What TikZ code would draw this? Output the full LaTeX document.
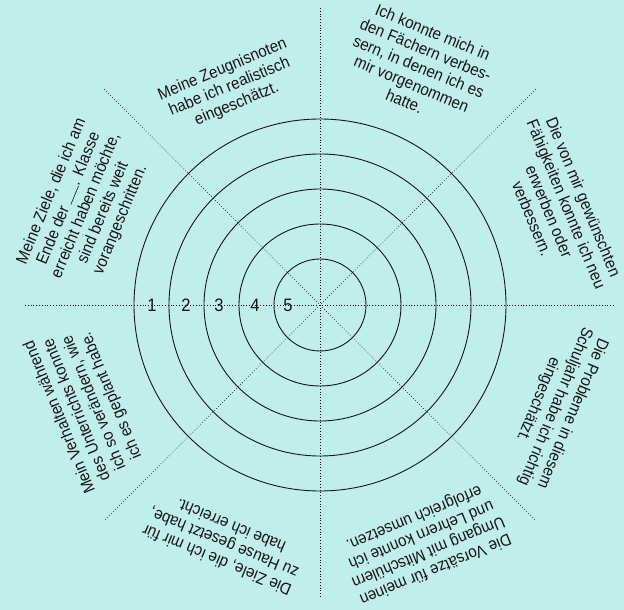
\documentclass[tikz,border=0pt]{standalone}
\usepackage{fontspec}
\setmainfont{Liberation Sans}[FakeStretch=0.92]
\definecolor{bg}{RGB}{192,238,235}
\definecolor{ink}{RGB}{22,22,22}
\begin{document}
\begin{tikzpicture}[x=1pt,y=1pt,
  ring/.style={draw=ink, line width=0.9pt},
  axis/.style={draw=ink, line width=0.7pt, dash pattern=on 0.8pt off 2pt},
  statement/.style={align=center, font=\fontsize{16.5}{18.6}\selectfont, text=ink, inner sep=0pt},
  level/.style={font=\fontsize{18}{20}\selectfont, text=ink, inner sep=0pt}]
% page and background
\fill[bg] (-320,-305) rectangle (304,305);
\useasboundingbox (-320,-305) rectangle (304,305);
\coordinate (c) at (0,0);
% ends of the dotted dividers
\coordinate (w) at (-295,0);
\coordinate (e) at (295,0);
\coordinate (n) at (0,297);
\coordinate (s) at (0,-293);
\coordinate (nw) at (135:305);
\coordinate (ne) at (45:305);
\coordinate (sw) at (225:305);
\coordinate (se) at (-45:305);
\draw[axis] (w) -- (e);
\draw[axis] (n) -- (s);
\draw[axis] (nw) -- (se);
\draw[axis] (ne) -- (sw);
% target rings
\foreach \r in {46,81,116,151,186}
  \draw[ring] (c) circle[radius=\r];
% level numbers
\node[level] (l1) at (-168,0) {1};
\node[level] (l2) at (-134,0) {2};
\node[level] (l3) at (-101,0) {3};
\node[level] (l4) at (-65,0) {4};
\node[level] (l5) at (-32,0) {5};
% statements, one per sector
\node[statement, rotate=22.5] (s1) at (112.5:236)
  {Meine Zeugnisnoten\\habe ich realistisch\\eingeschätzt.};
\node[statement, rotate=-22.5] (s2) at (67.5:258)
  {Ich konnte mich in\\den Fächern verbes-\\sern, in denen ich es\\mir vorgenommen\\hatte.};
\node[statement, rotate=-67.5] (s3) at (22.2:257)
  {Die von mir gewünschten\\Fähigkeiten konnte ich neu\\erwerben oder\\verbessern.};
\node[statement, rotate=-112.5] (s4) at (-23.3:256)
  {Die Probleme in diesem\\Schuljahr habe ich richtig\\eingeschätzt.};
\node[statement, rotate=-157.5] (s5) at (-66.3:260)
  {Die Vorsätze für meinen\\Umgang mit Mitschülern\\und Lehrern konnte ich\\erfolgreich umsetzen.};
\node[statement, rotate=157.5] (s6) at (-112:257)
  {Die Ziele, die ich mir für\\zu Hause gesetzt habe,\\habe ich erreicht.};
\node[statement, rotate=112.5] (s7) at (-156.6:255)
  {Mein Verhalten während\\des Unterrichts konnte\\ich so verändern, wie\\ich es geplant habe.};
\node[statement, rotate=67.5] (s8) at (157:254)
  {Meine Ziele, die ich am\\Ende der \rule{20pt}{0.6pt}. Klasse\\erreicht haben möchte,\\sind bereits weit\\vorangeschritten.};
\end{tikzpicture}
\end{document}
